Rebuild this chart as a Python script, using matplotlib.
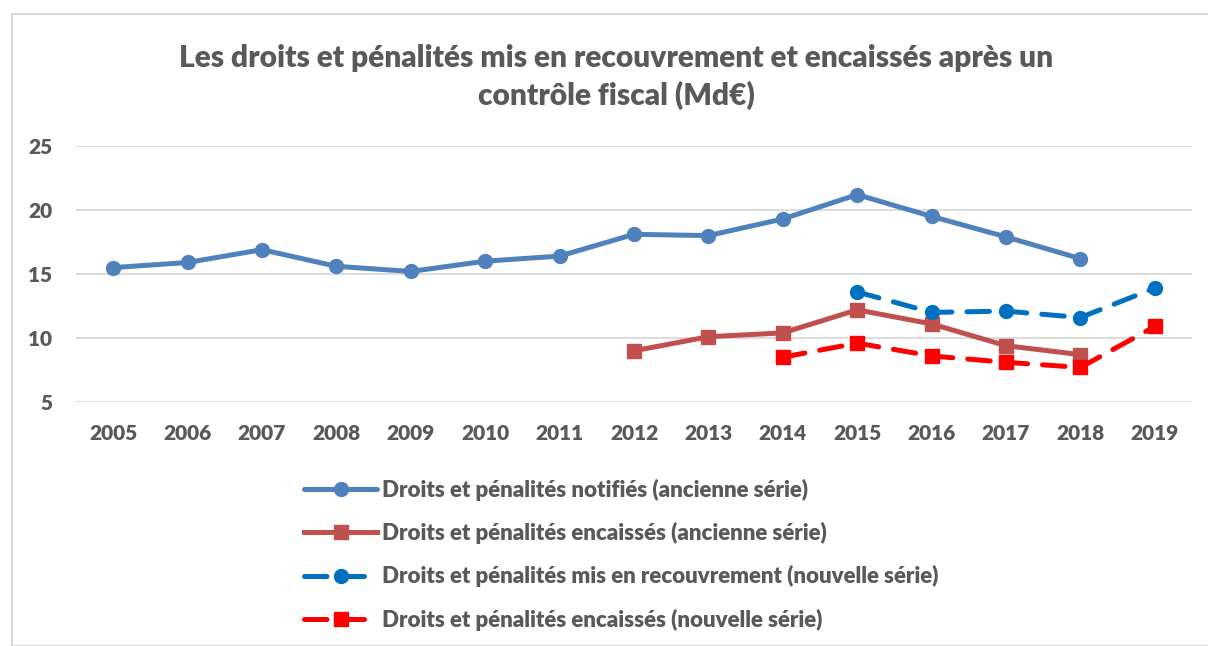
import matplotlib
matplotlib.use("Agg")
import matplotlib.pyplot as plt
from matplotlib.patches import Rectangle
import numpy as np

years = ["2005", "2006", "2007", "2008", "2009", "2010", "2011", "2012",
         "2013", "2014", "2015", "2016", "2017", "2018", "2019"]
notifies_ancienne = [15.5, 15.9, 16.9, 15.6, 15.2, 16.0, 16.4, 18.1, 18.0, 19.3, 21.2, 19.5, 17.9, 16.2, None]
encaisses_ancienne = [None, None, None, None, None, None, None, 9.0, 10.1, 10.4, 12.2, 11.1, 9.4, 8.7, None]
recouvrement_nouvelle = [None] * 10 + [13.6, 12.0, 12.1, 11.6, 13.9]
encaisses_nouvelle = [None] * 9 + [8.5, 9.6, 8.6, 8.1, 7.7, 10.9]

labels = ["Droits et pénalités notifiés (ancienne série)",
          "Droits et pénalités encaissés (ancienne série)",
          "Droits et pénalités mis en recouvrement (nouvelle série)",
          "Droits et pénalités encaissés (nouvelle série)"]
title = "Les droits et pénalités mis en recouvrement et encaissés après un\ncontrôle fiscal (Md€)"

plt.rcParams['font.family'] = ['Lato', 'DejaVu Sans']
txt = '#595959'

W, H = 1208, 646
fig = plt.figure(figsize=(W / 100, H / 100), dpi=100)
fig.patch.set_facecolor('white')
fig.patches.append(Rectangle((12 / W, 0), 1.2, (H - 14) / H, transform=fig.transFigure,
                             fill=False, edgecolor='#d9d9d9', linewidth=1.5))

ax = fig.add_axes([76 / W, 1 - 402 / H, (1192 - 76) / W, (402 - 146) / H])

x = np.arange(len(years))

def arr(v):
    return np.array([np.nan if a is None else a for a in v], dtype=float)

lw = 3.6
ax.plot(x, arr(notifies_ancienne), color='#4F81BD', lw=lw, marker='o', ms=10,
        label=labels[0], solid_capstyle='round')
ax.plot(x, arr(encaisses_ancienne), color='#C0504D', lw=lw, marker='s', ms=10,
        label=labels[1])
ax.plot(x, arr(recouvrement_nouvelle), color='#0070C0', lw=lw, marker='o', ms=10,
        ls=(0, (4.5, 3)), dash_capstyle='round', label=labels[2])
ax.plot(x, arr(encaisses_nouvelle), color='#FF0000', lw=lw, marker='s', ms=10,
        ls=(0, (4.5, 3)), dash_capstyle='round', label=labels[3])

ax.set_xlim(-0.5, len(years) - 0.5)
ax.set_ylim(5, 25)
ax.set_yticks([5, 10, 15, 20, 25])
ax.set_xticks(x)
ax.set_xticklabels(years)
ax.grid(axis='y', color='#d9d9d9', lw=1.3)
ax.set_axisbelow(True)
for s in ax.spines.values():
    s.set_visible(False)
ax.tick_params(length=0, labelsize=15, labelcolor=txt)
ax.tick_params(axis='x', pad=16)
ax.tick_params(axis='y', pad=17)
for t in ax.get_xticklabels() + ax.get_yticklabels():
    t.set_fontweight('heavy')

fig.text(616 / W, 1 - 77 / H, title, ha='center', va='center', fontsize=21.5,
         fontweight='heavy', color=txt, linespacing=1.35)

leg = fig.legend(loc='upper left', bbox_to_anchor=(284 / W, 1 - 459 / H), frameon=False,
                 prop={'size': 16, 'weight': 'heavy'}, labelcolor=txt, handlelength=3.3,
                 handletextpad=0.2, labelspacing=0.95)

fig.savefig('out.png', dpi=100)
